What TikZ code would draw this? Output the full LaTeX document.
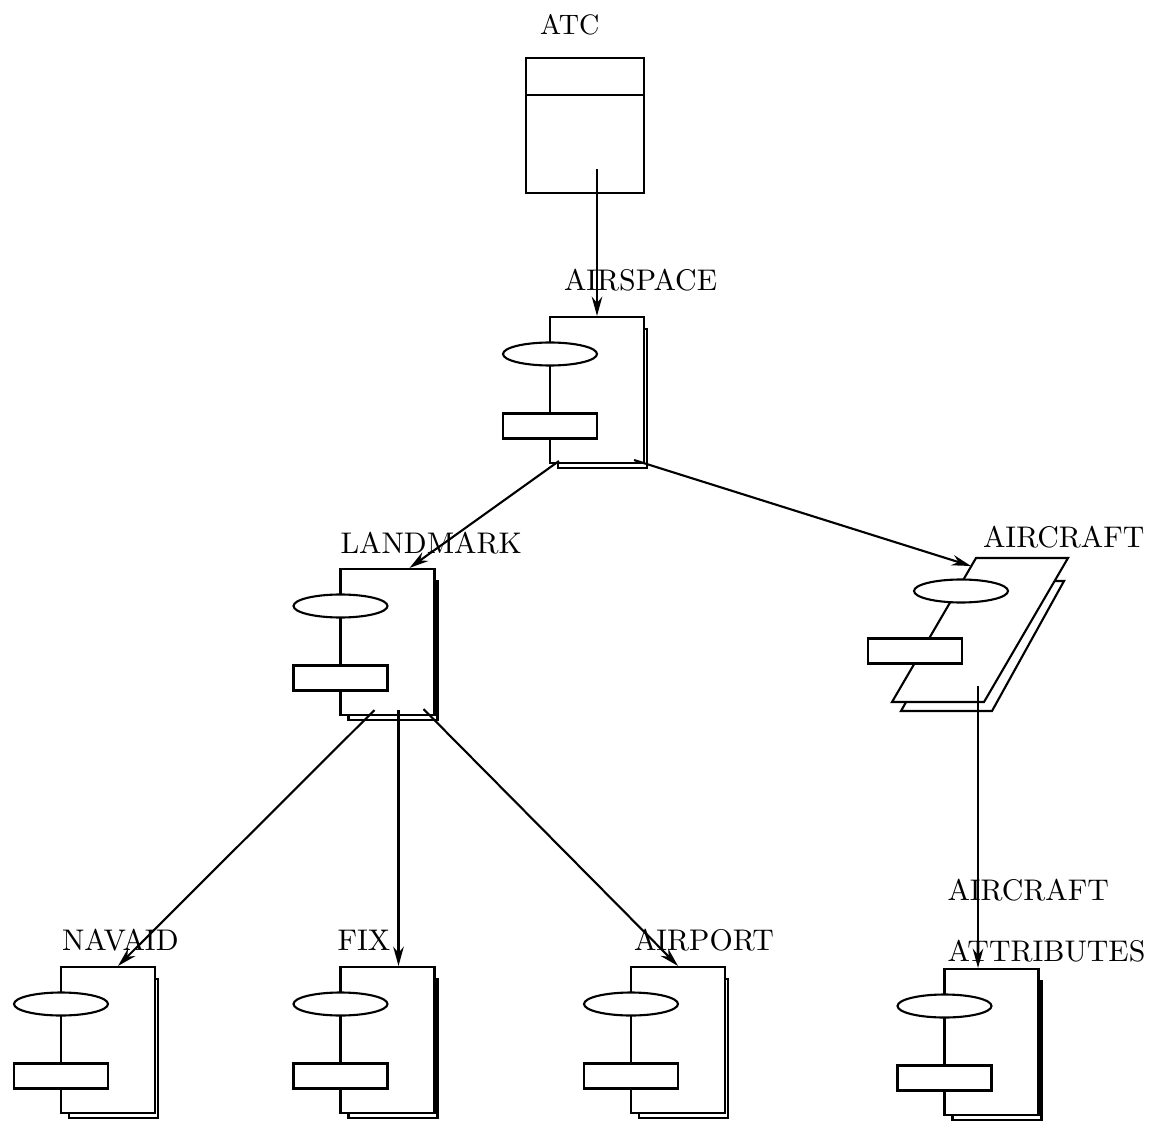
\documentclass[tikz,border=0pt]{standalone}
\usepackage{fontspec}
\usepackage{tikz}
\usetikzlibrary{shapes.geometric, arrows.meta, positioning, calc}
\newfontfamily\tagfamily{lmroman10-regular}[Extension=.otf]

\tikzset{
  flow/.style={line width=1.2pt, -{Stealth[length=11pt, width=6pt]}},
  atcbox/.style={draw, fill=white, minimum width=2.36cm, minimum height=2.7cm, inner sep=0pt},
  modbox/.style={draw, fill=white, minimum width=1.88cm, minimum height=2.92cm, inner sep=0pt},
  modlens/.style={ellipse, draw, fill=white, minimum width=1.88cm, minimum height=0.46cm, inner sep=0pt},
  modslot/.style={draw, fill=white, minimum width=1.88cm, minimum height=0.5cm, inner sep=0pt},
  modtag/.style={font=\tagfamily\fontsize{17}{20}\selectfont, inner sep=0pt, anchor=base west},
  pics/module/.style={code={
    \draw[fill=white] (-39,-61) rectangle (50,78);
    \node[modbox] (-box) at (0,0) {};
    \node[modlens] (-lens) at (-47,-36) {};
    \node[modslot] (-slot) at (-47,36) {};
  }}
}

\begin{document}
\begin{tikzpicture}[x=0.02cm, y=-0.02cm, line width=1.2pt]
\useasboundingbox (0,0) rectangle (1152,1121);

% ATC
\node[atcbox] (atc) at (585,125.5) {};
\draw ($(atc.north west)+(0,38)$) -- ($(atc.north east)+(0,38)$);
\node[modtag, font=\tagfamily\fontsize{16}{19}\selectfont] (atc-tag) at ([shift={(14,-22)}]atc.north west) {ATC};

% Modules
\pic (airspace) at (597,390) {module};
\pic (landmark) at (387.5,642) {module};
\pic (navaid) at (108,1040) {module};
\pic (fix) at (387.5,1040) {module};
\pic (airport) at (678,1040) {module};
\pic (attrib) at (991.5,1042) {module};

% Aircraft (slanted)
\draw[fill=white] (974,581) -- (1064,581) -- (992,711) -- (901,711) -- cycle;
\draw[fill=white] (976,558) -- (1068,558) -- (984,702) -- (892,702) -- cycle;
\node[modlens] (aircraft-lens) at (961,591) {};
\node[modslot] (aircraft-slot) at (915,651) {};
\coordinate (aircraft-in) at (971,566);
\coordinate (aircraft-out) at (978,686);

% Labels
\node[modtag] (airspace-tag) at ([shift={(14,-25)}]airspace-box.north west) {AIRSPACE};
\node[modtag] (landmark-tag) at ([shift={(0,-14)}]landmark-box.north west) {LANDMARK};
\node[modtag] (aircraft-tag) at (982,547) {AIRCRAFT};
\node[modtag] (navaid-tag) at ([shift={(1,-15)}]navaid-box.north west) {NAVAID};
\node[modtag] (fix-tag) at ([shift={(-3,-15)}]fix-box.north west) {FIX};
\node[modtag] (airport-tag) at ([shift={(3,-15)}]airport-box.north west) {AIRPORT};
\node[modtag] (attrib-tag) at ([shift={(3,-67)}]attrib-box.north west) {AIRCRAFT};
\node[modtag] (attrib-tag2) at ([shift={(3,-6)}]attrib-box.north west) {ATTRIBUTES};

% Connections
\draw[flow] ($(atc.south -| airspace-box.north)+(0,-25)$) -- (airspace-box.north);
\draw[flow] ($(airspace-box.south west)+(10,-3)$) -- ($(landmark-box.north)+(22,0)$);
\draw[flow] ($(airspace-box.south east)+(-11,-4)$) -- (aircraft-in);
\draw[flow] ($(landmark-box.south)+(-13,-6)$) -- ($(navaid-box.north)+(10,0)$);
\draw[flow] ($(landmark-box.south)+(11,-6)$) -- ($(fix-box.north)+(11,0)$);
\draw[flow] ($(landmark-box.south)+(36,-7)$) -- (airport-box.north);
\draw[flow] (aircraft-out) -- (aircraft-out |- attrib-box.north);

\end{tikzpicture}
\end{document}
